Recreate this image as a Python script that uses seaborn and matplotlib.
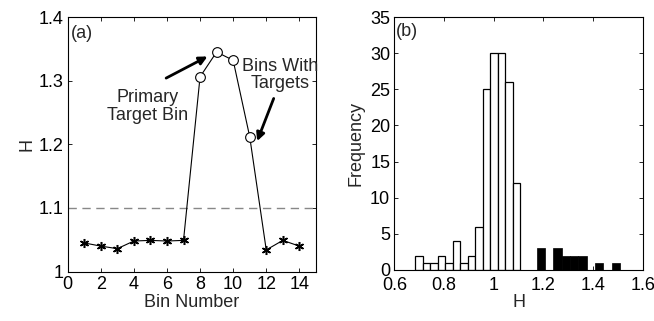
import numpy as np
import pandas as pd
import matplotlib
matplotlib.use('Agg')
import matplotlib.pyplot as plt
import seaborn as sns

# --- Data ---
bins = np.arange(1, 15)
h_values = [1.045, 1.040, 1.036, 1.048, 1.049, 1.048, 1.049,
            1.306, 1.345, 1.332, 1.212, 1.034, 1.049, 1.040]
target_bins = [8, 9, 10, 11]
threshold = 1.1

# histogram of H (background bins, white)
bg_start, bg_width = 0.683, 0.0303
bg_counts = [2, 1, 1, 2, 1, 4, 1, 2, 6, 25, 30, 30, 26, 12]
# histogram of H (target bins, black)
tg_start, tg_width = 1.1733, 0.0335
tg_counts = [3, 0, 3, 2, 2, 2, 0, 1, 0, 1]

df = pd.DataFrame({"bin": bins, "H": h_values})
df["target"] = df["bin"].isin(target_bins)

sns.set_style("ticks")
plt.rcParams['font.family'] = ['Liberation Sans', 'DejaVu Sans']
plt.rcParams['font.size'] = 13
plt.rcParams['xtick.direction'] = 'in'
plt.rcParams['ytick.direction'] = 'in'
plt.rcParams['xtick.top'] = True
plt.rcParams['ytick.right'] = True

fig = plt.figure(figsize=(6.54, 3.21), dpi=100)
ax1 = fig.add_axes([0.1035, 0.154, 0.3795, 0.793])
ax2 = fig.add_axes([0.603, 0.159, 0.380, 0.788])

# --- (a) H per bin ---
ax1.axhline(threshold, color='#888888', ls=(0, (6, 4)), lw=1)
sns.lineplot(data=df, x="bin", y="H", ax=ax1, color='k', lw=0.8)
sns.lineplot(data=df[~df["target"]], x="bin", y="H", ax=ax1, color='k',
             linestyle='', marker=(6, 2, 0), markersize=6.5, mew=1.1, mec='k')
sns.lineplot(data=df[df["target"]], x="bin", y="H", ax=ax1, color='k',
             linestyle='', marker='o', markersize=7, mfc='white', mew=0.8, mec='k')
ax1.set_xlim(0, 15)
ax1.set_ylim(1, 1.4)
ax1.set_xticks(range(0, 15, 2))
ax1.set_yticks([1, 1.1, 1.2, 1.3, 1.4])
ax1.set_yticklabels(["1", "1.1", "1.2", "1.3", "1.4"])
ax1.set_xlabel("Bin Number", labelpad=1)
ax1.set_ylabel("H", labelpad=2)
ax1.text(0.2, 1.387, "(a)", ha='left', va='top')

arrow = dict(arrowstyle='-|>', lw=2, color='k', mutation_scale=12, shrinkA=0, shrinkB=0)
ax1.annotate("", xy=(8.45, 1.338), xytext=(5.95, 1.304), arrowprops=arrow)
ax1.text(4.85, 1.259, "Primary\nTarget Bin", ha='center', va='center', linespacing=1.05)
ax1.annotate("", xy=(11.45, 1.205), xytext=(12.45, 1.272), arrowprops=arrow)
ax1.text(12.85, 1.309, "Bins With\nTargets", ha='center', va='center', linespacing=1.05)

# --- (b) histogram ---
bg_edges = bg_start + bg_width * np.arange(len(bg_counts) + 1)
tg_edges = tg_start + tg_width * np.arange(len(tg_counts) + 1)
bg_df = pd.DataFrame({"H": (bg_edges[:-1] + bg_edges[1:]) / 2, "n": bg_counts})
tg_df = pd.DataFrame({"H": (tg_edges[:-1] + tg_edges[1:]) / 2, "n": tg_counts})

sns.histplot(data=bg_df, x="H", weights="n", bins=list(bg_edges), ax=ax2,
             color='white', edgecolor='k', linewidth=0.9, alpha=1)
sns.histplot(data=tg_df, x="H", weights="n", bins=list(tg_edges), ax=ax2,
             color='black', edgecolor='k', linewidth=0.5, alpha=1)
ax2.set_xlim(0.6, 1.6)
ax2.set_ylim(0, 35)
ax2.set_xticks([0.6, 0.8, 1.0, 1.2, 1.4, 1.6])
ax2.set_xticklabels(["0.6", "0.8", "1", "1.2", "1.4", "1.6"])
ax2.set_yticks(range(0, 36, 5))
ax2.set_xlabel("H", labelpad=0)
ax2.set_ylabel("Frequency", labelpad=4)
ax2.text(0.605, 34.2, "(b)", ha='left', va='top')

for ax in (ax1, ax2):
    for s in ax.spines.values():
        s.set_visible(True)
        s.set_linewidth(0.8)
        s.set_color('k')
    ax.tick_params(length=3, width=0.6, pad=3, colors='k')
ax2.tick_params(axis='x', pad=5)

fig.savefig("out.png", dpi=100)
